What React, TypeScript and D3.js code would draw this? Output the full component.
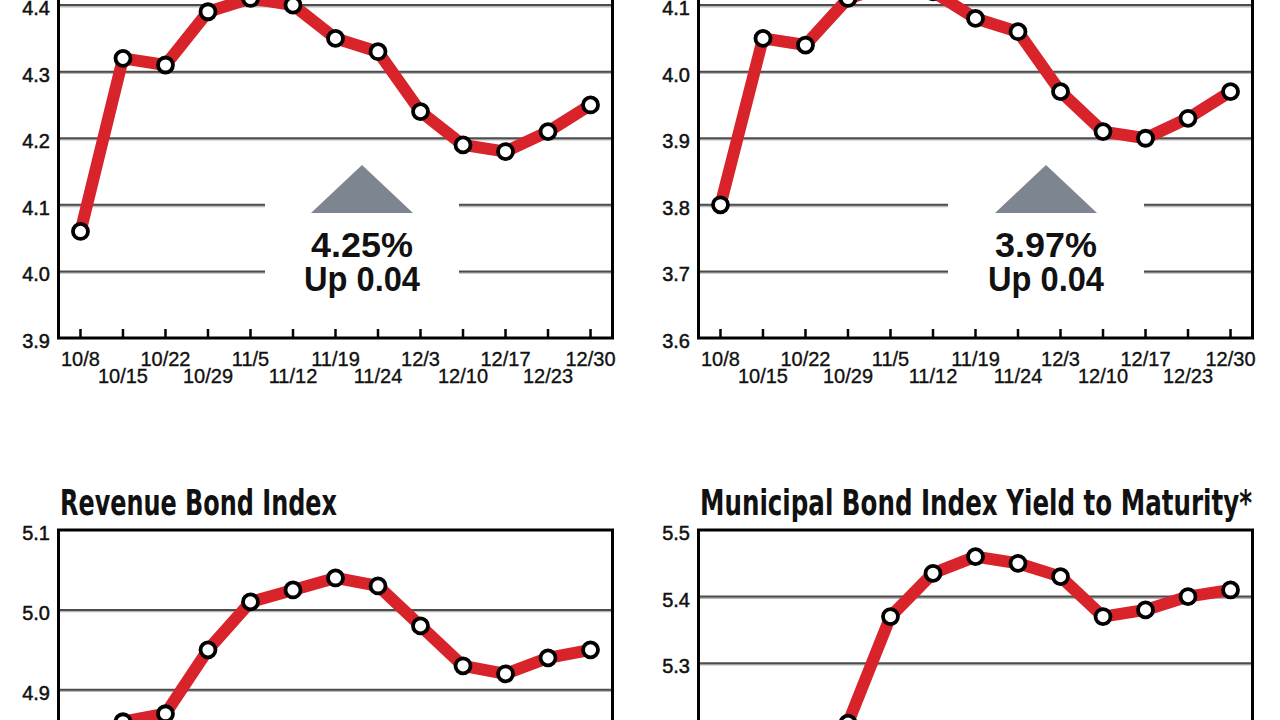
import React from "react";
import * as d3 from "d3";

// ---- data ----
const dates = [
  "10/8", "10/15", "10/22", "10/29", "11/5", "11/12", "11/19",
  "11/24", "12/3", "12/10", "12/17", "12/23", "12/30",
];

// top-left index (title cropped off in the reference)
const topLeftValues = [4.06, 4.32, 4.31, 4.39, 4.41, 4.4, 4.35, 4.33, 4.24, 4.19, 4.18, 4.21, 4.25];
const topLeftTicks = [3.9, 4.0, 4.1, 4.2, 4.3, 4.4, 4.5];

// top-right index (title cropped off in the reference)
const topRightValues = [3.8, 4.05, 4.04, 4.11, 4.13, 4.12, 4.08, 4.06, 3.97, 3.91, 3.9, 3.93, 3.97];
const topRightTicks = [3.6, 3.7, 3.8, 3.9, 4.0, 4.1, 4.2];

// Revenue Bond Index
const revenueValues = [4.8, 4.86, 4.87, 4.95, 5.01, 5.025, 5.04, 5.03, 4.98, 4.93, 4.92, 4.94, 4.95];
const revenueTicks = [4.6, 4.7, 4.8, 4.9, 5.0, 5.1];

// Municipal Bond Index Yield to Maturity*
const municipalValues = [5.1, 5.12, 5.15, 5.21, 5.37, 5.435, 5.46, 5.45, 5.43, 5.37, 5.38, 5.4, 5.41];
const municipalTicks = [4.9, 5.0, 5.1, 5.2, 5.3, 5.4, 5.5];

type Note = { value: string; change: string; cx: number; gapL: number; gapR: number };

const RED = "#d8232a";
const GRID = "#4d4d4d";
const LABEL_FONT = "'Liberation Sans', Arial, Helvetica, sans-serif";
const TITLE_FONT = "'Liberation Sans Narrow', 'Arial Narrow', 'DejaVu Sans Condensed', sans-serif";

function Panel(props: {
  x0: number;
  top: number;
  values: number[];
  ticks: number[];
  title?: string;
  titleLen?: number;
  note?: Note;
}) {
  const { x0, top, values, ticks, title, titleLen, note } = props;
  const height = 399.5;
  const left = x0 + 58.5;
  const right = x0 + 612.5;
  const bottom = top + height;
  const x = d3.scalePoint<string>().domain(dates).range([left, right]).padding(0.517);
  const y = d3
    .scaleLinear()
    .domain([ticks[0], ticks[ticks.length - 1]])
    .range([bottom, top]);
  const line = d3
    .line<number>()
    .x((_, i) => x(dates[i]) as number)
    .y((d) => y(d));
  const inner = ticks.slice(1, -1);

  return (
    <g>
      {inner.map((t) => (
        <g key={"g" + t}>
          <line x1={left} x2={right} y1={y(t) + 1.3} y2={y(t) + 1.3} stroke="#b8b8b8" strokeWidth={2} />
          <line x1={left} x2={right} y1={y(t)} y2={y(t)} stroke={GRID} strokeWidth={2} />
        </g>
      ))}
      {note && (
        <g>
          <rect x={x0 + note.gapL} y={180} width={note.gapR - note.gapL} height={110} fill="#fff" />
          <path
            d={`M${x0 + note.cx},${165} L${x0 + note.cx + 51},${213} L${x0 + note.cx - 51},${213} Z`}
            fill="#7d8690"
          />
          <text
            x={x0 + note.cx}
            y={257}
            textAnchor="middle"
            fontFamily={LABEL_FONT}
            fontWeight="bold"
            fontSize={35}
            fill="#111"
            textLength={102}
            lengthAdjust="spacingAndGlyphs"
          >
            {note.value}
          </text>
          <text
            x={x0 + note.cx}
            y={291}
            textAnchor="middle"
            fontFamily={LABEL_FONT}
            fontWeight="bold"
            fontSize={35}
            fill="#111"
            textLength={116}
            lengthAdjust="spacingAndGlyphs"
          >
            {note.change}
          </text>
        </g>
      )}
      <path
        d={line(values) || ""}
        fill="none"
        stroke={RED}
        strokeWidth={12}
        strokeLinejoin="round"
        strokeLinecap="round"
      />
      {values.map((v, i) => (
        <circle
          key={"c" + i}
          cx={x(dates[i]) as number}
          cy={y(v)}
          r={7.5}
          fill="#fff"
          stroke="#000"
          strokeWidth={3.8}
        />
      ))}
      <rect x={left} y={top} width={right - left} height={height} fill="none" stroke="#000" strokeWidth={3} />
      {dates.map((d) => (
        <line
          key={"t" + d}
          x1={x(d) as number}
          x2={x(d) as number}
          y1={bottom}
          y2={bottom - 9}
          stroke="#000"
          strokeWidth={2.5}
        />
      ))}
      {dates.map((d, i) => (
        <text
          key={"l" + d}
          x={x(d) as number}
          y={bottom + (i % 2 === 0 ? 28 : 45)}
          textAnchor="middle"
          fontFamily={LABEL_FONT}
          fontSize={20}
          fill="#111"
          stroke="#111"
          strokeWidth={0.35}
        >
          {d}
        </text>
      ))}
      {ticks.map((t) => (
        <text
          key={"y" + t}
          x={x0 + 50}
          y={y(t) + 10}
          textAnchor="end"
          fontFamily={LABEL_FONT}
          fontSize={20}
          fill="#111"
          stroke="#111"
          strokeWidth={0.5}
        >
          {t.toFixed(1)}
        </text>
      ))}
      {title && (
        <text
          x={left + 1.5}
          y={top - 15}
          fontFamily={TITLE_FONT}
          fontWeight="bold"
          fontSize={35}
          fill="#111"
          textLength={titleLen}
          lengthAdjust="spacingAndGlyphs"
        >
          {title}
        </text>
      )}
    </g>
  );
}

export default function App() {
  return (
    <svg
      width={1280}
      height={720}
      viewBox="0 0 1280 720"
      style={{ position: "fixed", left: 0, top: 0, background: "#fff" }}
    >
      <rect x={0} y={0} width={1280} height={720} fill="#fff" />
      <Panel
        x0={0}
        top={-61.5}
        values={topLeftValues}
        ticks={topLeftTicks}
        note={{ value: "4.25%", change: "Up 0.04", cx: 362, gapL: 265, gapR: 459 }}
      />
      <Panel
        x0={640}
        top={-61.5}
        values={topRightValues}
        ticks={topRightTicks}
        note={{ value: "3.97%", change: "Up 0.04", cx: 406, gapL: 308, gapR: 504 }}
      />
      <Panel
        x0={0}
        top={530}
        values={revenueValues}
        ticks={revenueTicks}
        title="Revenue Bond Index"
        titleLen={277}
      />
      <Panel
        x0={640}
        top={530}
        values={municipalValues}
        ticks={municipalTicks}
        title="Municipal Bond Index Yield to Maturity*"
        titleLen={552}
      />
    </svg>
  );
}
